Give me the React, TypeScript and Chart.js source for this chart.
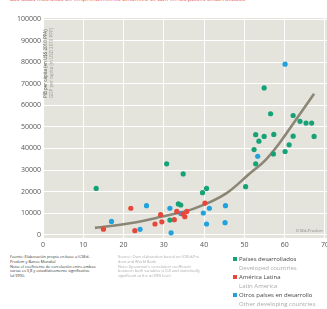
import React, { useEffect, useRef } from "react";
import { Chart, registerables } from "chart.js";

Chart.register(...registerables);

// Data
const developedX = [13.2, 30.7, 34.8, 33.6, 34.2, 31.5, 39.6, 40.6, 50.3, 52.8, 52.4, 52.8, 53.6, 54.9, 54.9, 56.5, 57.3, 57.2, 60.1, 61.1, 62.1, 62.1, 63.8, 65.3, 66.7, 67.3];
const developedY = [21500, 32900, 28200, 14300, 13800, 6800, 19500, 21500, 22300, 32900, 39500, 46400, 43400, 45600, 68100, 56100, 46500, 37500, 38600, 41700, 45700, 55300, 52600, 51800, 51800, 45600];

const latinX = [15.0, 21.8, 22.8, 27.8, 29.2, 29.5, 32.6, 33.2, 34.7, 35.2, 35.7, 40.2];
const latinY = [2600, 12300, 1900, 5000, 9300, 6000, 7000, 10800, 9600, 8400, 10800, 14700];

const otherX = [17.0, 24.1, 25.7, 31.5, 31.8, 34.2, 39.8, 41.3, 40.6, 45.3, 45.2, 53.3, 60.1];
const otherY = [6200, 2500, 13500, 12300, 900, 9900, 10100, 12300, 5000, 13500, 5600, 36400, 79100];

const trendX = [12.9, 22.8, 29.0, 37.3, 45.6, 51.4, 55.1, 58.5, 62.1, 67.3];
const trendY = [3200, 5700, 8200, 12000, 19300, 28500, 34400, 42000, 51500, 65400];

const xTicks = [0, 10, 20, 30, 40, 50, 60, 70];
const yTicks = [0, 10000, 20000, 30000, 40000, 50000, 60000, 70000, 80000, 90000, 100000];

const GREEN = "#16a277";
const RED = "#e6473a";
const BLUE = "#21a2dc";

const pts = (xs: number[], ys: number[]) => xs.map((x, i) => ({ x, y: ys[i] }));

const bgPlugin = {
  id: "plotBg",
  beforeDraw(chart: any) {
    const { ctx, chartArea } = chart;
    ctx.save();
    ctx.fillStyle = "#e5e4dc";
    ctx.fillRect(chartArea.left, chartArea.top, chartArea.right - chartArea.left, chartArea.bottom - chartArea.top);
    ctx.restore();
  },
};

export default function App() {
  const ref = useRef<HTMLCanvasElement>(null);

  useEffect(() => {
    if (!ref.current) return;
    const chart = new Chart(ref.current, {
      type: "scatter",
      data: {
        datasets: [
          {
            label: "Países desarrollados",
            data: pts(developedX, developedY),
            backgroundColor: GREEN,
            pointRadius: 2.6,
            borderWidth: 0,
            order: 1,
          },
          {
            label: "América Latina",
            data: pts(latinX, latinY),
            backgroundColor: RED,
            pointRadius: 2.6,
            borderWidth: 0,
            order: 1,
          },
          {
            label: "Otros países en desarrollo",
            data: pts(otherX, otherY),
            backgroundColor: BLUE,
            pointRadius: 2.6,
            borderWidth: 0,
            order: 1,
          },
          {
            label: "Tendencia",
            data: pts(trendX, trendY),
            showLine: true,
            pointRadius: 0,
            borderColor: "#8b8676",
            borderWidth: 2.6,
            cubicInterpolationMode: "monotone",
            order: 2,
          } as any,
        ],
      },
      options: {
        responsive: false,
        animation: false,
        devicePixelRatio: 1,
        layout: { padding: { top: 18, right: 11, left: 0, bottom: 0 } },
        plugins: { legend: { display: false }, tooltip: { enabled: false } },
        scales: {
          x: {
            type: "linear",
            min: 0,
            max: 71,
            border: { display: false },
            grid: { color: "#ffffff", lineWidth: 1, drawTicks: false },
            ticks: {
              padding: 3,
              color: "#555",
              font: { family: "Open Sans", size: 7 },
              callback: (v: any) => String(v),
            },
            afterBuildTicks: (s: any) => {
              s.ticks = xTicks.map((v) => ({ value: v }));
            },
            afterFit: (s: any) => {
              s.height = 14;
            },
          },
          y: {
            type: "linear",
            min: -1500,
            max: 100500,
            border: { display: false },
            grid: { color: "#ffffff", lineWidth: 1, drawTicks: false },
            ticks: {
              padding: 2,
              color: "#555",
              font: { family: "Open Sans", size: 7 },
              callback: (v: any) => String(v),
            },
            afterBuildTicks: (s: any) => {
              s.ticks = yTicks.map((v) => ({ value: v }));
            },
            afterFit: (s: any) => {
              s.width = 43;
            },
          },
        },
      },
      plugins: [bgPlugin],
    });
    return () => chart.destroy();
  }, []);

  const small: React.CSSProperties = {
    position: "absolute",
    fontFamily: "Open Sans, sans-serif",
    whiteSpace: "nowrap",
  };

  return (
    <div style={{ position: "fixed", left: 0, top: 0, width: 327, height: 309, overflow: "hidden", background: "#fff" }}>
      <div style={{ ...small, left: 10, top: -5, fontSize: 6, color: "#e8584a" }}>
        Las tasas más altas de emprendimiento dinámico se dan en los países desarrollados
      </div>
      <canvas ref={ref} width={340} height={252} style={{ position: "absolute", left: 0, top: 0 }} />
      <div
        style={{
          ...small,
          left: 42,
          top: 98,
          transform: "rotate(-90deg)",
          transformOrigin: "left top",
          fontSize: 4.5,
          lineHeight: "6px",
        }}
      >
        <div style={{ color: "#555" }}>PIB per cápita (en U$S 2010 PPA)</div>
        <div style={{ color: "#9a9a9a" }}>GDP per capita (in USD 2010 PPP)</div>
      </div>
      <div style={{ ...small, left: 296, top: 228, fontSize: 4, color: "#8a8a8a" }}>ICSEd-Prodem</div>
      <div style={{ ...small, left: 10, top: 255, fontSize: 3.9, lineHeight: "4.8px", color: "#333" }}>
        <div>Fuente: Elaboración propia en base a ICSEd-</div>
        <div>Prodem y Banco Mundial</div>
        <div>Nota: el coeficiente de correlación entre ambas</div>
        <div>varias es 0,8 y estadísticamente significativo</div>
        <div>(al 99%).</div>
      </div>
      <div style={{ ...small, left: 118, top: 255, fontSize: 3.9, lineHeight: "4.8px", color: "#aaa" }}>
        <div>Source: Own elaboration based on ICSEd-Pro</div>
        <div>dem and World Bank</div>
        <div>Note: Spearman's correlation coefficient</div>
        <div>between both variables is 0.8 and statistically</div>
        <div>significant at the α=99% level.</div>
      </div>
      {[
        { c: GREEN, es: "Países desarrollados", en: "Developed countries", top: 255 },
        { c: RED, es: "América Latina", en: "Latin America", top: 273 },
        { c: BLUE, es: "Otros países en desarrollo", en: "Other developing countries", top: 291 },
      ].map((l) => (
        <div key={l.es} style={{ ...small, left: 233, top: l.top, fontSize: 6, lineHeight: "9px" }}>
          <span style={{ position: "absolute", left: 0, top: 2, width: 4, height: 4, background: l.c }} />
          <div style={{ marginLeft: 6, color: "#444" }}>{l.es}</div>
          <div style={{ marginLeft: 6, color: "#aaa" }}>{l.en}</div>
        </div>
      ))}
    </div>
  );
}
